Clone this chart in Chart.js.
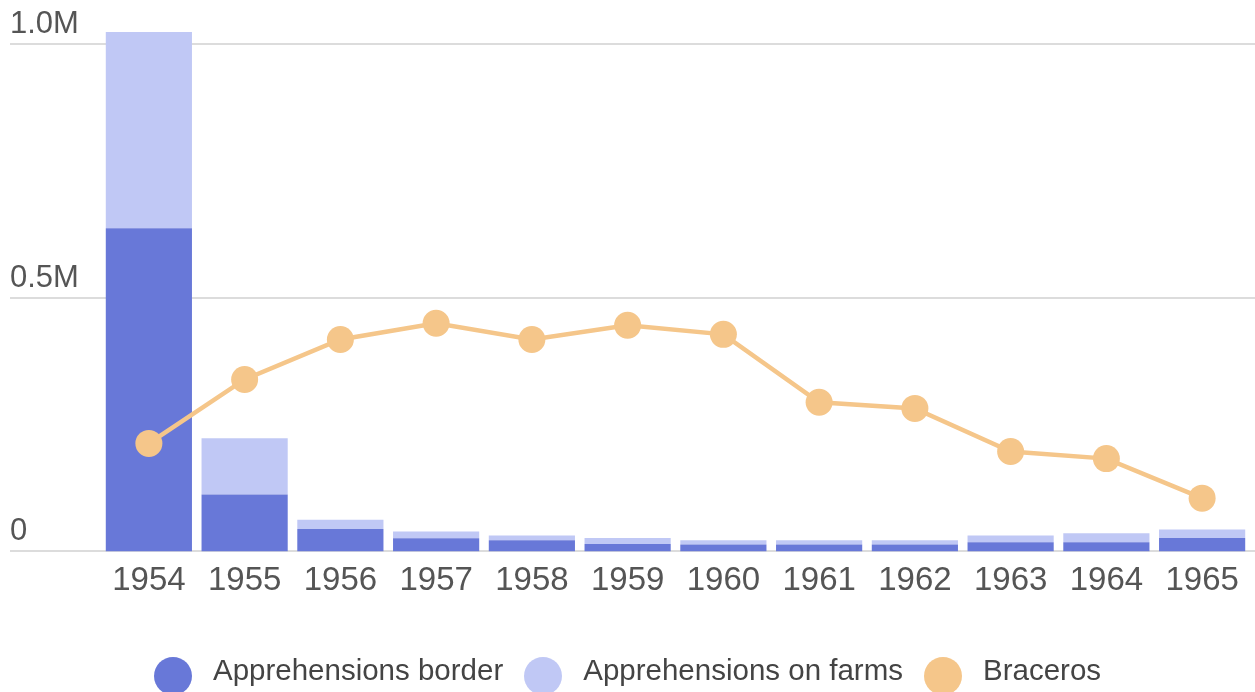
<!DOCTYPE html>
<html lang="en">
<head>
    <meta charset="UTF-8">
    <title>Apprehensions and braceros, 1954-1965</title>
    <script src="https://cdn.jsdelivr.net/npm/chart.js"></script>
    <style>
        body {
            margin: 0;
            background: #ffffff;
            font-family: "Liberation Sans", Arial, sans-serif;
        }
        .wrap {
            position: relative;
            width: 1255px;
            height: 692px;
            overflow: hidden;
        }
        .legend {
            position: absolute;
            left: 0;
            top: 653px;
            width: 1255px;
            display: flex;
            justify-content: center;
            gap: 21px;
            color: #444;
            font-size: 29.5px;
            line-height: 34px;
        }
        .legend span {
            display: flex;
            align-items: flex-start;
        }
        .legend i {
            display: inline-block;
            width: 38px;
            height: 38px;
            border-radius: 50%;
            margin-top: 4px;
            margin-right: 21px;
        }
    </style>
</head>
<body>
    <div class="wrap">
        <canvas id="chart" width="1255" height="692"></canvas>
        <div class="legend" id="legend"></div>
    </div>

    <script>
        // data
        const years = ['1954', '1955', '1956', '1957', '1958', '1959', '1960', '1961', '1962', '1963', '1964', '1965'];
        const border = [637000, 112000, 44000, 26000, 22000, 14500, 13800, 13800, 13800, 17800, 17800, 26200];
        const farms = [387000, 111000, 18500, 13000, 9300, 11800, 8000, 8000, 8000, 13800, 17800, 17200];
        const braceros = [213000, 339000, 418000, 450000, 418000, 446000, 428000, 294000, 282000, 197000, 183000, 105000];
        const yTicks = [0, 500000, 1000000];
        const yTickLabels = ['0', '0.5M', '1.0M'];

        const colBorder = '#6878d8';
        const colFarms = '#c0c8f5';
        const colBraceros = '#f5c68a';

        // horizontal grid lines with labels sitting on top of them
        const gridPlugin = {
            id: 'gridLabels',
            beforeDatasetsDraw(chart) {
                const ctx = chart.ctx;
                const y = chart.scales.y;
                ctx.save();
                ctx.strokeStyle = '#dcdcdc';
                ctx.lineWidth = 2;
                ctx.fillStyle = '#555';
                ctx.font = '31px "Liberation Sans", Arial, sans-serif';
                ctx.textBaseline = 'alphabetic';
                ctx.textAlign = 'left';
                yTicks.forEach((v, i) => {
                    const py = Math.round(y.getPixelForValue(v));
                    ctx.beginPath();
                    ctx.moveTo(10, py);
                    ctx.lineTo(chart.width, py);
                    ctx.stroke();
                    ctx.fillText(yTickLabels[i], 10, py - 11);
                });
                ctx.restore();
            }
        };

        new Chart(document.getElementById('chart'), {
            data: {
                labels: years,
                datasets: [
                    {
                        type: 'line',
                        label: 'Braceros',
                        data: braceros,
                        stack: 'braceros',
                        order: 0,
                        borderColor: colBraceros,
                        backgroundColor: colBraceros,
                        borderWidth: 4.5,
                        pointRadius: 13.5,
                        pointBorderWidth: 0,
                        tension: 0
                    },
                    {
                        type: 'bar',
                        label: 'Apprehensions border',
                        data: border,
                        stack: 'appr',
                        order: 1,
                        backgroundColor: colBorder,
                        categoryPercentage: 1,
                        barPercentage: 0.9
                    },
                    {
                        type: 'bar',
                        label: 'Apprehensions on farms',
                        data: farms,
                        stack: 'appr',
                        order: 1,
                        backgroundColor: colFarms,
                        categoryPercentage: 1,
                        barPercentage: 0.9
                    }
                ]
            },
            options: {
                responsive: false,
                animation: false,
                devicePixelRatio: 1,
                layout: {
                    autoPadding: false,
                    padding: { left: 101, right: 5, top: 24, bottom: 81 }
                },
                plugins: {
                    legend: { display: false },
                    tooltip: { enabled: false }
                },
                scales: {
                    x: {
                        stacked: true,
                        grid: { display: false, drawTicks: false },
                        border: { display: false },
                        afterFit(scale) {
                            scale.paddingLeft = 0;
                            scale.paddingRight = 0;
                        },
                        ticks: {
                            color: '#555',
                            padding: 10,
                            font: { size: 33, family: '"Liberation Sans", Arial, sans-serif' }
                        }
                    },
                    y: {
                        stacked: true,
                        display: false,
                        min: 0,
                        max: 1040000
                    }
                }
            },
            plugins: [gridPlugin]
        });

        // legend in the same order as the picture
        const legendItems = [
            ['Apprehensions border', colBorder],
            ['Apprehensions on farms', colFarms],
            ['Braceros', colBraceros]
        ];
        const legend = document.getElementById('legend');
        legendItems.forEach(([name, col]) => {
            const s = document.createElement('span');
            s.innerHTML = '<i style="background:' + col + '"></i>' + name;
            legend.appendChild(s);
        });
    </script>
</body>
</html>
